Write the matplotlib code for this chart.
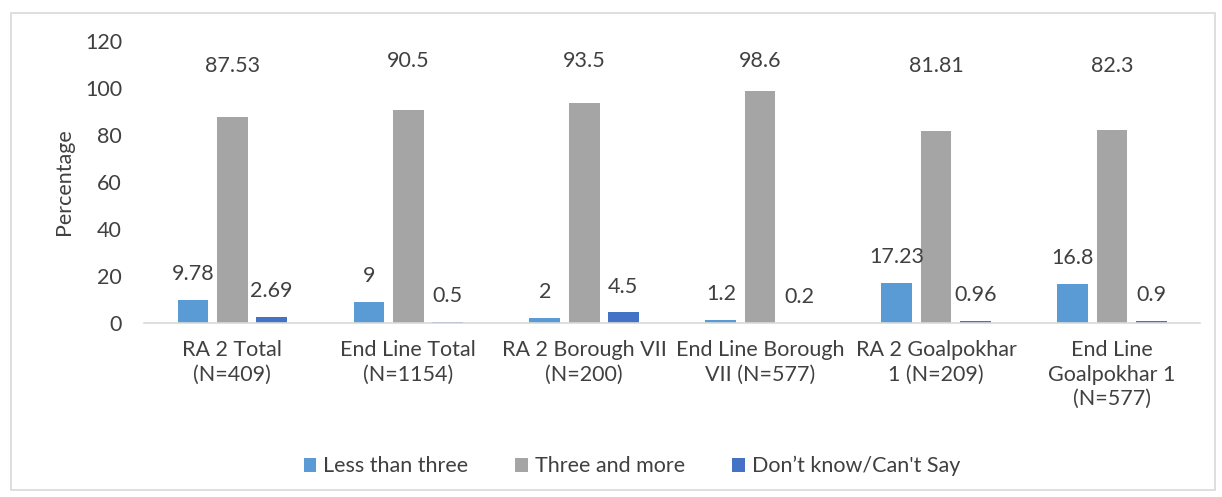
import matplotlib
matplotlib.use("Agg")
import matplotlib.pyplot as plt
import numpy as np
from matplotlib.patches import Rectangle

plt.rcParams["font.family"] = ["Lato", "DejaVu Sans"]

categories = ["RA 2 Total\n(N=409)", "End Line Total\n(N=1154)", "RA 2 Borough VII\n(N=200)",
              "End Line Borough\nVII (N=577)", "RA 2 Goalpokhar\n1 (N=209)", "End Line\nGoalpokhar 1\n(N=577)"]
less_than_three = [9.78, 9, 2, 1.2, 17.23, 16.8]
three_and_more = [87.53, 90.5, 93.5, 98.6, 81.81, 82.3]
dont_know = [2.69, 0.5, 4.5, 0.2, 0.96, 0.9]
series_names = ["Less than three", "Three and more", "Don\u2019t know/Can't Say"]
colors = ["#5B9BD5", "#A5A5A5", "#4472C4"]
yticks = [0, 20, 40, 60, 80, 100, 120]

FS = 15.5
fig = plt.figure(figsize=(12.22, 4.97), dpi=100)
ax = fig.add_axes([0.118, 0.35, 0.864, 0.5675])

x = np.arange(len(categories))
w = 0.175
off = 0.223
txtc = "#404040"
for i, (vals, name, c) in enumerate(zip([less_than_three, three_and_more, dont_know], series_names, colors)):
    pos = x + (i - 1) * off
    v = np.array(vals, dtype=float)
    ax.bar(pos, v, width=w, color=c, label=name)
    label_y = np.where(v > 50, np.where(v > 90, 111.5, 109.5), v + 11)
    for p, val, ly in zip(pos, v, label_y):
        ax.text(p, ly, f"{val:g}", ha="center", va="center", fontsize=FS, color=txtc)

ax.set_xlim(-0.5, len(categories) - 0.5)
ax.set_ylim(0, 120)
ax.set_yticks(yticks)
ax.set_xticks(x)
ax.set_xticklabels(categories, fontsize=FS, color=txtc, linespacing=1.3)
ax.tick_params(axis="y", labelsize=FS, labelcolor=txtc, length=0, pad=16)
ax.tick_params(axis="x", length=0, pad=12)
for s in ["top", "right", "left"]:
    ax.spines[s].set_visible(False)
ax.spines["bottom"].set_color("#D9D9D9")
ax.spines["bottom"].set_linewidth(1.2)
ax.set_ylabel("Percentage", fontsize=FS, color=txtc, labelpad=8)

leg = fig.legend(loc="center", bbox_to_anchor=(0.517, 0.062), ncol=3, frameon=False,
                 fontsize=FS, handlelength=0.6, handleheight=0.6, columnspacing=2.2,
                 handletextpad=0.3)
for t in leg.get_texts():
    t.set_color(txtc)

fig.patches.append(Rectangle((11 / 1222, 1 - 490 / 497), (1215 - 11) / 1222, (490 - 13) / 497,
                             transform=fig.transFigure, fill=False, edgecolor="#D9D9D9", linewidth=1.2))
fig.savefig("out.png", dpi=100)
